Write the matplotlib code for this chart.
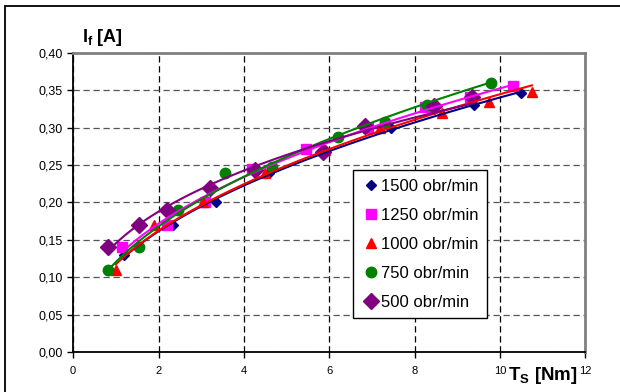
import numpy as np
import matplotlib
matplotlib.use("Agg")
import matplotlib.pyplot as plt
from matplotlib.patches import Rectangle
from matplotlib.ticker import FuncFormatter

plt.rcParams['font.family'] = ['Liberation Sans', 'DejaVu Sans']
plt.rcParams['mathtext.fontset'] = 'custom'
plt.rcParams['mathtext.bf'] = 'Liberation Sans:bold'
plt.rcParams['mathtext.rm'] = 'Liberation Sans'

# measured points, torque T_S [Nm] vs field current I_f [A]
t_1500 = [1.2, 2.35, 3.35, 4.6, 5.9, 7.45, 9.4, 10.5]
i_1500 = [0.13, 0.17, 0.20, 0.24, 0.27, 0.30, 0.33, 0.347]

t_1250 = [1.15, 2.2, 3.1, 4.2, 5.45, 6.9, 8.25, 9.3, 10.3]
i_1250 = [0.14, 0.17, 0.20, 0.245, 0.272, 0.30, 0.328, 0.341, 0.356]

t_1000 = [1.0, 1.9, 3.05, 4.5, 5.9, 7.2, 8.65, 9.75, 10.75]
i_1000 = [0.11, 0.17, 0.20, 0.24, 0.27, 0.30, 0.32, 0.335, 0.348]

t_750 = [0.82, 1.55, 2.45, 3.55, 4.65, 6.2, 7.3, 8.3, 9.8]
i_750 = [0.11, 0.14, 0.19, 0.24, 0.248, 0.288, 0.307, 0.33, 0.36]

t_500 = [0.82, 1.55, 2.2, 3.2, 4.25, 5.85, 6.85, 8.45, 9.35]
i_500 = [0.14, 0.17, 0.19, 0.22, 0.243, 0.267, 0.302, 0.329, 0.341]

labels = ['1500 obr/min', '1250 obr/min', '1000 obr/min', '750 obr/min', '500 obr/min']

series = [
    (t_1500, i_1500, '#000080', 'D', 5),
    (t_1250, i_1250, '#FF00FF', 's', 7),
    (t_1000, i_1000, '#FF0000', '^', 7.5),
    (t_750, i_750, '#008000', 'o', 7.5),
    (t_500, i_500, '#800080', 'D', 8),
]

fig = plt.figure(figsize=(6.2, 3.92), dpi=100)
ax = fig.add_axes([0.118, 0.102, 0.826, 0.763])

# markers first, power trendlines on top (like Excel)
for (t, i, col, mk, ms), lab in zip(series, labels):
    ax.plot(t, i, linestyle='none', marker=mk, color=col, markersize=ms,
            label=lab, zorder=3)
for (t, i, col, mk, ms) in series:
    b, ln_a = np.polyfit(np.log(t), np.log(i), 1)
    xs = np.linspace(min(t), max(t), 100)
    ax.plot(xs, np.exp(ln_a) * xs ** b, color=col, linewidth=1.5, zorder=4)

ax.set_xlim(0, 12)
ax.set_ylim(0, 0.40)
ax.set_xticks(range(0, 13, 2))
ax.set_yticks(np.arange(0, 0.401, 0.05))
ax.yaxis.set_major_formatter(FuncFormatter(lambda v, p: f"{v:.2f}".replace('.', ',')))
ax.tick_params(axis='y', labelsize=9, direction='out', length=4, width=1)
ax.tick_params(axis='x', labelsize=8, direction='out', length=4, width=1, pad=6)

ax.xaxis.grid(True, color='black', linestyle=(0, (5, 3)), linewidth=0.9)
ax.yaxis.grid(True, color='#555555', linestyle=(0, (5, 3)), linewidth=0.9)
ax.set_axisbelow(True)

for side in ['left', 'bottom']:
    ax.spines[side].set_color('black')
    ax.spines[side].set_linewidth(1.3)
for side in ['top', 'right']:
    ax.spines[side].set_color('#808080')
    ax.spines[side].set_linewidth(2)

leg = ax.legend(loc='upper left', bbox_to_anchor=(0.547, 0.607), fontsize=12,
                frameon=True, fancybox=False, framealpha=1, edgecolor='black',
                handletextpad=0.05, handlelength=1.1, borderpad=0.5,
                labelspacing=0.84, borderaxespad=0)
leg.get_frame().set_linewidth(1)

fig.text(0.133, 0.893, r'I$_\mathbf{f}$ [A]', fontsize=13, fontweight='bold')
fig.text(0.819, 0.030, r'T$_\mathbf{S}$ [Nm]', fontsize=13.5, fontweight='bold')

# outer chart border
fig.patches.append(Rectangle((0.008, -0.2), 1.2, 1.185, transform=fig.transFigure,
                             fill=False, edgecolor='black', linewidth=1.3))

fig.savefig('out.png', dpi=100)
